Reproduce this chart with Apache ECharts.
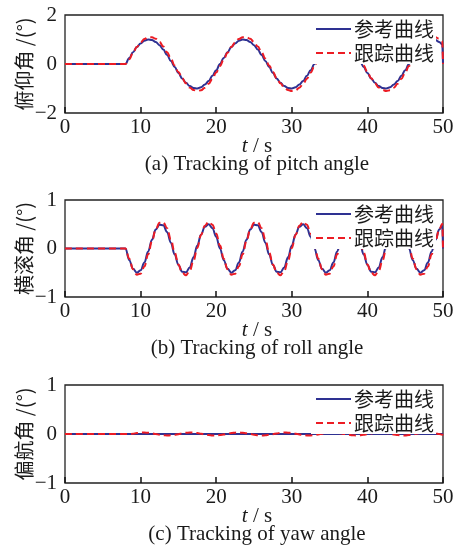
<!DOCTYPE html>
<html>
<head>
<meta charset="utf-8">
<script src="https://cdn.jsdelivr.net/npm/echarts@6/dist/echarts.min.js"></script>
<style>
html,body{margin:0;padding:0;background:#fff;}
#c{width:453px;height:548px;}
</style>
</head>
<body>
<div id="c"></div>
<script>
// time samples (s)
const timeS = [0, 8, 8.5, 9, 9.5, 10, 10.5, 11, 11.5, 12, 12.5, 13, 13.5, 14, 14.5, 15, 15.5, 16, 16.5, 17, 17.5, 18, 18.5, 19, 19.5, 20, 20.5, 21, 21.5, 22, 22.5, 23, 23.5, 24, 24.5, 25, 25.5, 26, 26.5, 27, 27.5, 28, 28.5, 29, 29.5, 30, 30.5, 31, 31.5, 32, 32.5, 33, 33.5, 34, 34.5, 35, 35.5, 36, 36.5, 37, 37.5, 38, 38.5, 39, 39.5, 40, 40.5, 41, 41.5, 42, 42.5, 43, 43.5, 44, 44.5, 45, 45.5, 46, 46.5, 47, 47.5, 48, 48.5, 49, 49.5, 49.9, 50];

// (a) pitch angle
const pitchRef = [0,
  0, 0.25, 0.48, 0.69, 0.84, 0.95, 1.0, 0.98, 0.9, 0.77, 0.59, 0.37, 0.12, -0.12, -0.37, -0.59, -0.77, -0.9, -0.98, -1.0, -0.95, -0.84, -0.69, -0.48, -0.25,
  0, 0.25, 0.48, 0.69, 0.84, 0.95, 1.0, 0.98, 0.9, 0.77, 0.59, 0.37, 0.12, -0.12, -0.37, -0.59, -0.77, -0.9, -0.98, -1.0, -0.95, -0.84, -0.69, -0.48, -0.25,
  0, 0.25, 0.48, 0.69, 0.84, 0.95, 1.0, 0.98, 0.9, 0.77, 0.59, 0.37, 0.12, -0.12, -0.37, -0.59, -0.77, -0.9, -0.98, -1.0, -0.95, -0.84, -0.69, -0.48, -0.25,
  0, 0.25, 0.48, 0.69, 0.84, 0.95, 1.0, 0.98, 0.9,
  0.8, 0];
const pitchTrk = [0,
  0, 0.19, 0.46, 0.69, 0.88, 1.02, 1.09, 1.09, 1.03, 0.90, 0.71, 0.48, 0.22, -0.06, -0.33, -0.58, -0.79, -0.96, -1.06, -1.10, -1.07, -0.97, -0.81, -0.60, -0.35,
  -0.08, 0.19, 0.46, 0.69, 0.88, 1.02, 1.09, 1.09, 1.03, 0.90, 0.71, 0.48, 0.22, -0.06, -0.33, -0.58, -0.79, -0.96, -1.06, -1.10, -1.07, -0.97, -0.81, -0.60, -0.35,
  -0.08, 0.19, 0.46, 0.69, 0.88, 1.02, 1.09, 1.09, 1.03, 0.90, 0.71, 0.48, 0.22, -0.06, -0.33, -0.58, -0.79, -0.96, -1.06, -1.10, -1.07, -0.97, -0.81, -0.60, -0.35,
  -0.08, 0.19, 0.46, 0.69, 0.88, 1.02, 1.09, 1.09, 1.03,
  0.93, 0];

// (b) roll angle
const rollRef = [0,
  0, -0.24, -0.42, -0.5, -0.45, -0.29, -0.06, 0.18, 0.39, 0.49, 0.48, 0.34, 0.12, -0.12, -0.34, -0.48, -0.49, -0.39, -0.18, 0.06, 0.29, 0.45, 0.5, 0.42, 0.24,
  0, -0.24, -0.42, -0.5, -0.45, -0.29, -0.06, 0.18, 0.39, 0.49, 0.48, 0.34, 0.12, -0.12, -0.34, -0.48, -0.49, -0.39, -0.18, 0.06, 0.29, 0.45, 0.5, 0.42, 0.24,
  0, -0.24, -0.42, -0.5, -0.45, -0.29, -0.06, 0.18, 0.39, 0.49, 0.48, 0.34, 0.12, -0.12, -0.34, -0.48, -0.49, -0.39, -0.18, 0.06, 0.29, 0.45, 0.5, 0.42, 0.24,
  0, -0.24, -0.42, -0.5, -0.45, -0.29, -0.06, 0.18, 0.39,
  0.48, 0];
const rollTrk = [0,
  0, -0.21, -0.43, -0.54, -0.52, -0.37, -0.12, 0.15, 0.39, 0.53, 0.54, 0.42, 0.19, -0.08, -0.33, -0.50, -0.55, -0.46, -0.25, 0.01, 0.28, 0.47, 0.55, 0.49, 0.31,
  0.06, -0.21, -0.43, -0.54, -0.52, -0.37, -0.12, 0.15, 0.39, 0.53, 0.54, 0.42, 0.19, -0.08, -0.33, -0.50, -0.55, -0.46, -0.25, 0.01, 0.28, 0.47, 0.55, 0.49, 0.31,
  0.06, -0.21, -0.43, -0.54, -0.52, -0.37, -0.12, 0.15, 0.39, 0.53, 0.54, 0.42, 0.19, -0.08, -0.33, -0.50, -0.55, -0.46, -0.25, 0.01, 0.28, 0.47, 0.55, 0.49, 0.31,
  0.06, -0.21, -0.43, -0.54, -0.52, -0.37, -0.12, 0.15, 0.39,
  0.51, 0];

// (c) yaw angle
const yawRefT = [0, 50];
const yawRef = [0, 0];
const yawTrk = [0,
  0, 0,
  0.005, 0.019, 0.028, 0.030, 0.025, 0.013, -0.001, -0.016, -0.026, -0.030, -0.027, -0.017, -0.003, 0.012, 0.024, 0.030, 0.028, 0.020, 0.006, -0.009, -0.021, -0.029, -0.029, -0.022, -0.010,
  0.005, 0.019, 0.028, 0.030, 0.025, 0.013, -0.001, -0.016, -0.026, -0.030, -0.027, -0.017, -0.003, 0.012, 0.024, 0.030, 0.028, 0.020, 0.006, -0.009, -0.021, -0.029, -0.029, -0.022, -0.010,
  0.005, 0.019, 0.028, 0.030, 0.025, 0.013, -0.001, -0.016, -0.026, -0.030, -0.027, -0.017, -0.003, 0.012, 0.024, 0.030, 0.028, 0.020, 0.006, -0.009, -0.021, -0.029, -0.029, -0.022, -0.010,
  0.005, 0.019, 0.028, 0.030, 0.025, 0.013, -0.001,
  -0.013, 0];

const xTicks = {min: 0, max: 50, interval: 10};
const yNames = ['俯仰角 /(°)', '横滚角 /(°)', '偏航角 /(°)'];
const yRanges = [[-2, 2, 2], [-1, 1, 1], [-1, 1, 1]];
const legendNames = ['参考曲线', '跟踪曲线'];
const captions = ['(a) Tracking of pitch angle', '(b) Tracking of roll angle', '(c) Tracking of yaw angle'];

const BLUE = '#2e3192';
const RED = '#ec1c24';
const TXT = '#1a1a1a';
const SERIF = '"Liberation Serif", "DejaVu Serif", serif';
const CJK = '"Noto Sans CJK SC", sans-serif';

const grids = [
  {left: 65, top: 15, width: 378, height: 98},
  {left: 65, top: 200, width: 378, height: 97},
  {left: 65, top: 385, width: 378, height: 98}
];

function pairs(ts, vs) { return ts.map((t, i) => [t, vs[i]]); }

const seriesData = [
  [pairs(timeS, pitchRef), pairs(timeS, pitchTrk)],
  [pairs(timeS, rollRef), pairs(timeS, rollTrk)],
  [pairs(yawRefT, yawRef), pairs(timeS, yawTrk)]
];

const option = {
  animation: false,
  backgroundColor: '#fff',
  grid: grids.map(g => Object.assign({show: true, borderColor: '#222', borderWidth: 1.3, backgroundColor: 'transparent',
    containLabel: false, outerBoundsMode: 'none', z: 0}, g)),
  xAxis: grids.map((g, i) => ({
    type: 'value', gridIndex: i, min: xTicks.min, max: xTicks.max, interval: xTicks.interval,
    position: 'bottom', z: 5,
    axisLine: {show: false, onZero: false},
    axisTick: {show: true, inside: true, length: 6, lineStyle: {color: '#111', width: 1.5}},
    splitLine: {show: false},
    axisLabel: {color: TXT, fontFamily: SERIF, fontSize: 21, margin: 4, hideOverlap: false},
    nameMoveOverlap: false
  })),
  yAxis: grids.map((g, i) => ({
    type: 'value', gridIndex: i, min: yRanges[i][0], max: yRanges[i][1], interval: yRanges[i][2],
    axisLine: {show: false, onZero: false},
    axisTick: {show: false},
    splitLine: {show: false},
    axisLabel: {color: TXT, fontFamily: SERIF, fontSize: 21, margin: 8,
      formatter: v => String(v).replace('-', '\u2212')},
    name: yNames[i], nameLocation: 'middle', nameRotate: 90, nameGap: 31, nameMoveOverlap: false,
    nameTextStyle: {color: TXT, fontFamily: CJK, fontSize: 20}
  })),
  legend: grids.map((g, i) => ({
    data: legendNames, orient: 'vertical', right: 17, top: g.top + 3,
    itemWidth: 35, itemHeight: 12, itemGap: 4,
    itemStyle: {color: 'transparent', borderWidth: 0, opacity: 0},
    backgroundColor: '#fff', padding: [1, 2, 1, 4], selectedMode: false,
    textStyle: {color: TXT, fontFamily: CJK, fontSize: 20, padding: [0, 0, 0, -2]}
  })),
  series: [],
  graphic: []
};

seriesData.forEach((pair, i) => {
  option.series.push({
    name: legendNames[0], type: 'line', xAxisIndex: i, yAxisIndex: i,
    data: pair[0], symbol: 'none', smooth: 0.4, smoothMonotone: 'x',
    lineStyle: {color: BLUE, width: 2, type: 'solid'}, itemStyle: {color: BLUE}, z: 2
  });
  option.series.push({
    name: legendNames[1], type: 'line', xAxisIndex: i, yAxisIndex: i,
    data: pair[1], symbol: 'none', smooth: 0.4, smoothMonotone: 'x',
    lineStyle: {color: RED, width: 2, type: [7, 4]}, itemStyle: {color: RED}, z: 3
  });
  const g = grids[i];
  const cx = g.left + g.width / 2 + 3;
  option.graphic.push({
    type: 'text', x: cx, y: g.top + g.height + 33, z: 10,
    style: {text: '{i|t} / s', rich: {i: {fontStyle: 'italic', fontFamily: SERIF, fontSize: 21, fill: TXT}},
      fontFamily: SERIF, fontSize: 21, fill: TXT, align: 'center', verticalAlign: 'middle'}
  });
  option.graphic.push({
    type: 'text', x: cx, y: g.top + g.height + 51, z: 10,
    style: {text: captions[i], fontFamily: SERIF, fontSize: 21, fill: TXT, align: 'center', verticalAlign: 'middle'}
  });
});

const chart = echarts.init(document.getElementById('c'), null, {renderer: 'canvas'});
chart.setOption(option);
</script>
</body>
</html>
